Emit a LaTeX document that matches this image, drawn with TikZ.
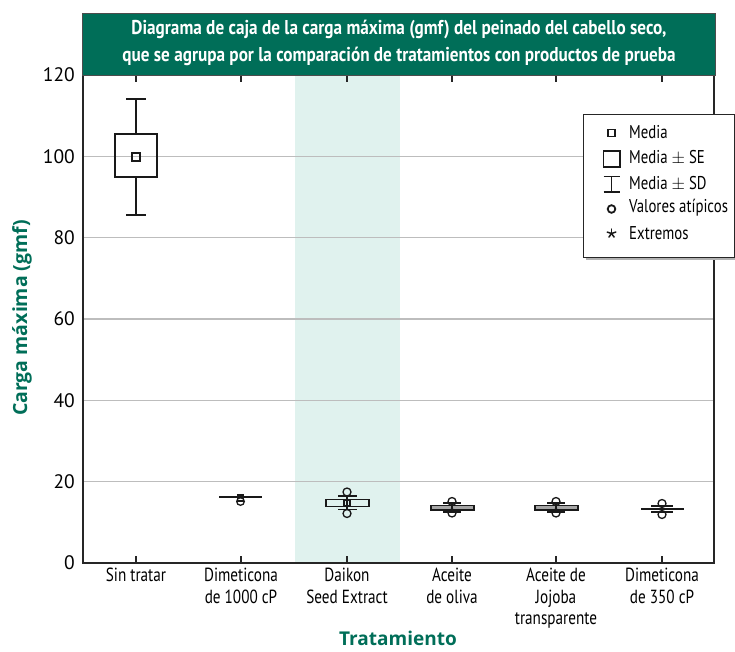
\documentclass[tikz,border=0pt]{standalone}
\usepackage{fontspec}
\setmainfont{PT Sans}[FakeStretch=0.8]
\newfontfamily\titlefont{PT Sans}[FakeStretch=0.86]
\newfontfamily\numfont{PT Sans}
\newfontfamily\labfont{Open Sans}
\definecolor{tgreen}{HTML}{006E58}
\definecolor{band}{HTML}{E0F2EE}
\definecolor{gridc}{HTML}{BDBDBD}
\tikzset{
  gridline/.style={gridc, line width=1.2pt},
  axisline/.style={black!85, line width=1.8pt},
  bx/.style={black!90, line width=1.6pt},
  ticklab/.style={font=\numfont\fontsize{19.5}{19.5}\selectfont, anchor=east, inner sep=0pt},
  catlab/.style={font=\fontsize{19}{21.5}\selectfont, anchor=north, align=center, inner sep=0pt},
  leglab/.style={font=\fontsize{18.5}{18.5}\selectfont, anchor=west, inner sep=0pt},
}
\begin{document}
\begin{tikzpicture}[x=1pt,y=-1pt]
\useasboundingbox (0,0) rectangle (735,652);
% highlight band
\fill[band] (295,75) rectangle (400,563);
% grid
\foreach \yy in {481.7,400.3,319,237.7,156.3}
  \draw[gridline] (83,\yy) -- (714,\yy);
% y tick labels
\node[ticklab] (y0) at (75,563) {0};
\node[ticklab] (y20) at (75,481.7) {20};
\node[ticklab] (y40) at (75,400.3) {40};
\node[ticklab] (y60) at (75,319) {60};
\node[ticklab] (y80) at (75,237.7) {80};
\node[ticklab] (y100) at (75,156.3) {100};
\node[ticklab] (y120) at (75,75) {120};
% axes
\draw[axisline] (83,75) -- (83,563) -- (714,563) -- (714,75);
% ticks
\foreach \xx in {136,241,347,452,556,662}{
  \draw[axisline, line width=1.4pt] (\xx,563) -- (\xx,556);
  \draw[axisline, line width=1.4pt] (\xx,75) -- (\xx,82);
}
% title box
\node[draw=black!70, line width=1.2pt, fill=tgreen, minimum width=633pt, minimum height=62pt, anchor=north west, inner sep=0pt] (title) at (82,13) {};
\node[text=white, font=\titlefont\bfseries\fontsize{20}{27.5}\selectfont, align=center, inner sep=0pt] (titletext) at (399,43)
  {Diagrama de caja de la carga máxima (gmf) del peinado del cabello seco,\\que se agrupa por la comparación de tratamientos con productos de prueba};
% Sin tratar
\draw[bx] (136,99) -- (136,134) (136,177) -- (136,215);
\draw[bx] (126,99) -- (146,99) (126,215) -- (146,215);
\draw[bx] (115,134) rectangle (157,177);
\draw[bx, line width=1.4pt] (132,153) rectangle (140,161);
% Dimeticona 1000
\draw[bx] (219,497) -- (262,497);
\draw[bx, line width=1.3pt] (237.5,495) rectangle (243.5,501);
\draw[bx, line width=1.3pt] (240.5,501.5) circle (3.8);
% Daikon
\draw[bx] (326,499.5) rectangle (369,506.5);
\draw[bx] (347,496) -- (347,509.5);
\draw[bx] (338,496) -- (357,496) (338,509.5) -- (357,509.5);
\draw[bx, line width=1.3pt] (344,500) rectangle (350,506);
\draw[bx, line width=1.3pt] (347,492) circle (4);
\draw[bx, line width=1.3pt] (347,513.5) circle (4);
% Aceite de oliva, Jojoba
\foreach \cx in {452,556}{
  \draw[bx, line width=1.4pt, fill=black!35] (\cx-21,505.5) rectangle (\cx+22,510);
  \draw[bx] (\cx-9,503) -- (\cx+9,503) (\cx-9,512) -- (\cx+9,512);
  \draw[bx] (\cx,503) -- (\cx,512);
  \draw[bx, line width=1.3pt] (\cx,501.5) circle (4);
  \draw[bx, line width=1.3pt] (\cx,513) circle (4);
}
% Dimeticona 350
\draw[bx] (641,509) -- (684,509);
\draw[bx] (651,506) -- (673,506) (651,512) -- (673,512);
\draw[bx] (662,506) -- (662,512);
\draw[bx, line width=1.3pt] (662,503.5) circle (4);
\draw[bx, line width=1.3pt] (662,514.5) circle (4);
% category labels
\node[catlab] (c1) at (136,568) {Sin tratar};
\node[catlab] (c2) at (241,568) {Dimeticona\\de 1000 cP};
\node[catlab] (c3) at (347,568) {Daikon\\Seed Extract};
\node[catlab] (c4) at (452,568) {Aceite\\de oliva};
\node[catlab] (c5) at (556,568) {Aceite de\\Jojoba\\transparente};
\node[catlab] (c6) at (662,568) {Dimeticona\\de 350 cP};
% axis titles
\node[text=tgreen, font=\labfont\bfseries\fontsize{19}{19}\selectfont, inner sep=0pt] (xt) at (398,638.5) {Tratamiento};
\node[text=tgreen, font=\labfont\bfseries\fontsize{19.5}{19.5}\selectfont, inner sep=0pt, rotate=90] (yt) at (22,318) {Carga máxima (gmf)};
% legend
\fill[black!30] (586,117) rectangle (737,260);
\node[draw=black!85, line width=1pt, fill=white, anchor=north west, minimum width=151pt, minimum height=143pt, inner sep=0pt] (legend) at (583,114) {};
\draw[bx, line width=1.8pt] (608,129.5) rectangle (615,136.5);
\node[leglab] (l1) at (629,132) {Media};
\draw[bx, line width=1.8pt] (603.5,151) rectangle (620,167);
\node[leglab] (l2) at (629,158) {Media $\pm$ SE};
\draw[bx, line width=1.8pt] (611.5,176.5) -- (611.5,192) (603.5,176.5) -- (620,176.5) (603.5,192) -- (620,192);
\node[leglab] (l3) at (629,183.5) {Media $\pm$ SD};
\draw[bx, line width=1.8pt] (611.5,209) circle (3.8);
\node[leglab] (l4) at (629,208) {Valores atípicos};
\coordinate (s5) at (611.5,233.5);
\foreach \ang in {90,162,234,306,18}
  \draw[bx, line width=1.5pt, line cap=round] (s5) -- ++(\ang:-4.5);
\node[leglab] (l5) at (629,233) {Extremos};
\end{tikzpicture}
\end{document}
